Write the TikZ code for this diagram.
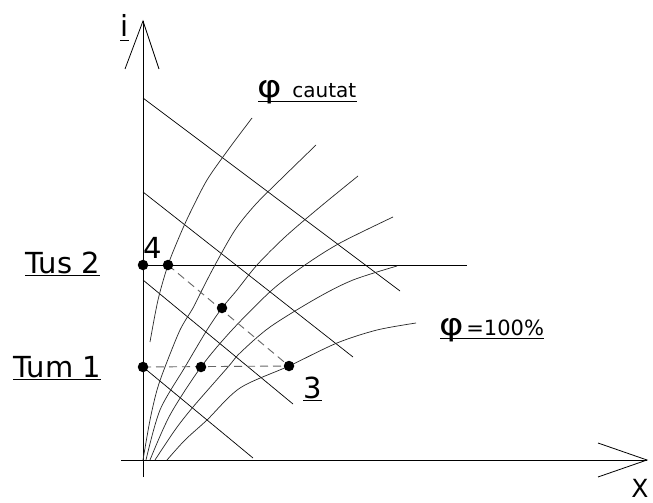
\documentclass[tikz,border=0pt]{standalone}
\usepackage{fontspec}
\setmainfont{DejaVu Sans}
\begin{document}
\begin{tikzpicture}[x=1pt,y=-1pt,line width=0.7pt,
  ax/.style={line width=0.8pt},
  curve/.style={line width=0.7pt,black!85},
  diag/.style={line width=0.7pt},
  dashline/.style={dash pattern=on 8pt off 5pt,black!60,line width=0.9pt},
  dot/.style={circle,fill=black,inner sep=0pt,minimum size=10.5pt},
  lab/.style={inner sep=0pt,anchor=base west,font=\fontsize{29}{30}\selectfont},
  sm/.style={inner sep=0pt,anchor=base west,font=\fontsize{20}{22}\selectfont},
  phisym/.style={inner sep=0pt,anchor=base west,xscale=1.2,font=\fontsize{31}{32}\selectfont},
  ul/.style={line width=0.8pt}]
\useasboundingbox (0,0) rectangle (653,503);
\fill[white] (0,0) rectangle (653,503);
% points
\coordinate (O) at (143,460);
\coordinate (yt) at (143,21);
\coordinate (yb) at (143,477);
\coordinate (xl) at (121,460);
\coordinate (xt) at (647,460);
\coordinate (s2) at (143,265);
\coordinate (p4) at (168,265);
\coordinate (pm) at (222,308);
\coordinate (s1) at (143,367);
\coordinate (p1) at (201,367);
\coordinate (p3) at (289,366);
\coordinate (hend) at (467,265);
% axes
\draw[ax] (yb) -- (yt);
\draw[ax] (125,69) -- (yt) -- (159,69);
\draw[ax] (xl) -- (xt);
\draw[ax] (598,443) -- (xt) -- (598,477);
% diagonal lines
\draw[diag] (143,98) -- (400,291);
\draw[diag] (143,192) -- (353,357);
\draw[diag] (143,280) -- (293,404);
\draw[diag] (s1) -- (253,458);
% horizontal line
\draw[diag] (s2) -- (hend);
% curves
\draw[curve] plot[smooth] coordinates {(150,342) (158,300) (p4) (180,235) (190,213) (207,180) (228,150) (252,118)};
\draw[curve] plot[smooth] coordinates {(143,460) (150,420) (157,390) (165,367) (180,330) (193,308) (202,290) (215,265) (235,230) (255,205) (280,180) (316,145)};
\draw[curve] plot[smooth] coordinates {(146,460) (160,410) (185,367) (207,330) (pm) (237,290) (257,265) (285,237) (320,207) (358,176)};
\draw[curve] plot[smooth] coordinates {(150,460) (170,415) (p1) (232,330) (272,290) (305,265) (340,243) (393,217)};
\draw[curve] plot[smooth] coordinates {(155,460) (175,430) (193,407) (228,367) (240,353) (270,327) (317,298) (353,280) (397,266)};
\draw[curve] plot[smooth] coordinates {(167,460) (185,440) (207,420) (240,388) (p3) (337,343) (377,330) (416,323)};
% dashed
\draw[dashline] (s1) -- (p3);
\draw[dashline] (p4) -- (p3);
% dots
\foreach \p in {s2,p4,pm,s1,p1,p3} \node[dot] (d\p) at (\p) {};
% labels
\node[lab] (li) at (120,37) {i};
\draw[ul] ([yshift=-3pt]li.base west) -- ([yshift=-3pt]li.base east);
\node[lab,font=\fontsize{25}{27}\selectfont] (lx) at (631,497) {X};
\node[lab] (lt2) at (25,273) {Tus 2};
\draw[ul] ([yshift=-2pt]lt2.base west) -- ([yshift=-2pt]lt2.base east);
\node[lab] (lt1) at (13,377) {Tum 1};
\draw[ul] ([yshift=-2pt]lt1.base west) -- ([yshift=-2pt]lt1.base east);
\node[lab] (l4) at (143,258) {4};
\node[lab] (l3) at (303,398) {3};
\draw[ul] ([yshift=-2pt]l3.base west) -- ([yshift=-2pt]l3.base east);
\node[phisym] (phi1) at (257,97) {φ};
\node[sm] (cau) at (292,97) {cautat};
\draw[ul] (258,101) -- ([yshift=-4pt]cau.base east);
\node[phisym] (phi2) at (439,335) {φ};
\node[inner sep=0pt,anchor=base west,font=\fontsize{21}{22}\selectfont] (hun) at (466,335) {=100\%};
\draw[ul] (440,338) -- ([yshift=-3pt]hun.base east);
\end{tikzpicture}
\end{document}
